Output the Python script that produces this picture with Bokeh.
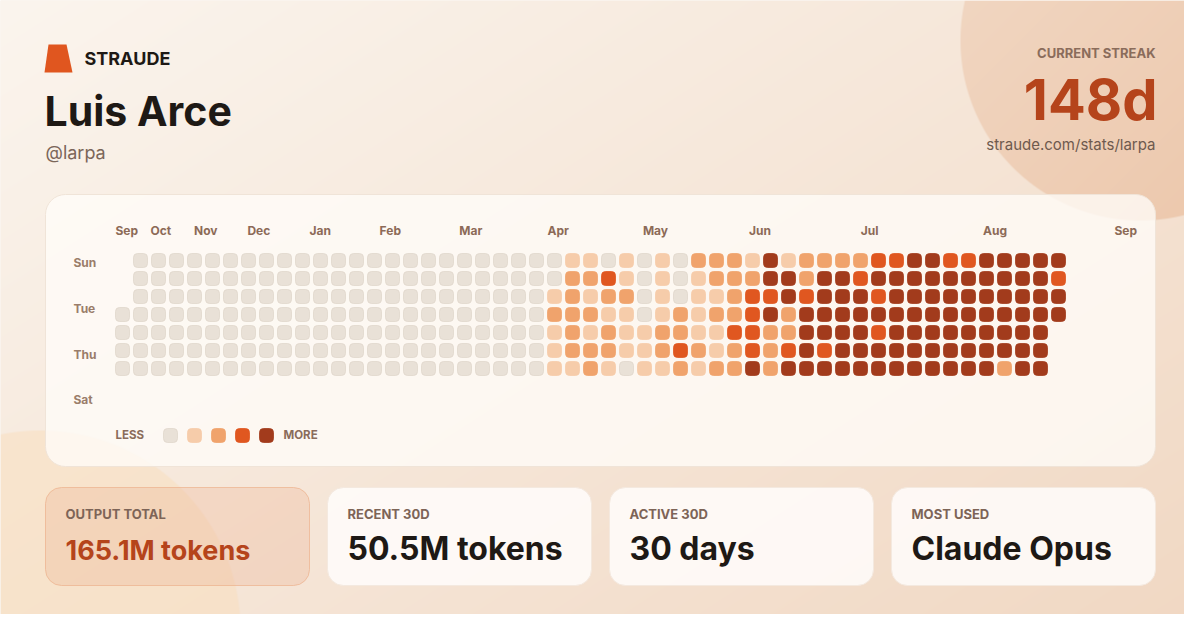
import numpy as np
from bokeh.plotting import figure
from bokeh.models import Range1d, ColumnDataSource
from bokeh.core.properties import value
from bokeh.embed import file_html
from bokeh.resources import INLINE

# ---------------- data ----------------
brand = "STRAUDE"
user_name = "Luis Arce"
user_handle = "@larpa"
streak_label = "CURRENT STREAK"
streak_value = "148d"
profile_url = "straude.com/stats/larpa"

month_labels = ["Sep", "Oct", "Nov", "Dec", "Jan", "Feb", "Mar", "Apr", "May", "Jun", "Jul", "Aug", "Sep"]
month_ticks = [0.0, 1.94, 4.36, 7.33, 10.78, 14.67, 19.1, 24.0, 29.3, 35.2, 41.4, 48.2, 55.5]  # week index
day_labels = ["Sun", "Tue", "Thu", "Sat"]
day_ticks = [0.33, 2.89, 5.43, 7.96]  # day index (baseline)

N = None
# activity level per week (columns), days Sun..Sat; None = outside the year
weekly_levels = [
    [N, N, N, 0, 0, 0, 0],
] + [[0, 0, 0, 0, 0, 0, 0] for _ in range(23)] + [
    [0, 0, 1, 2, 1, 1, 1],
    [1, 2, 2, 2, 2, 2, 1],
    [1, 2, 1, 2, 1, 2, 2],
    [0, 3, 2, 1, 2, 2, 1],
    [1, 1, 2, 1, 1, 1, 0],
    [0, 0, 0, 0, 1, 1, 1],
    [1, 1, 1, 1, 2, 2, 1],
    [0, 0, 0, 2, 2, 3, 2],
    [2, 1, 1, 1, 1, 2, 1],
    [2, 2, 1, 2, 1, 1, 2],
    [2, 2, 2, 2, 3, 2, 2],
    [1, 2, 3, 3, 3, 3, 4],
    [4, 4, 3, 4, 2, 2, 2],
    [1, 4, 4, 2, 2, 3, 4],
    [2, 2, 3, 4, 4, 4, 4],
    [2, 4, 4, 4, 4, 3, 4],
    [2, 4, 4, 4, 4, 4, 4],
    [2, 3, 4, 4, 4, 4, 4],
    [3, 4, 3, 4, 3, 4, 4],
    [3, 4, 4, 4, 4, 4, 4],
    [4, 4, 4, 4, 4, 4, 4],
    [4, 4, 4, 4, 4, 4, 4],
    [3, 4, 4, 4, 4, 4, 4],
    [3, 4, 4, 4, 4, 4, 4],
    [4, 4, 4, 4, 4, 4, 4],
    [4, 4, 4, 4, 4, 4, 2],
    [4, 4, 4, 4, 4, 4, 4],
    [4, 4, 4, 4, 4, 4, 4],
    [4, 3, 4, 4, N, N, N],
]
level_colors = ["#E9E1D7", "#F6CCAA", "#F0A36C", "#E05720", "#A23B1C"]
level_lines = ["#E0D7CC", "#F6CCAA", "#F0A36C", "#E05720", "#A23B1C"]

stat_labels = ["OUTPUT TOTAL", "RECENT 30D", "ACTIVE 30D", "MOST USED"]
stat_values = ["165.1M tokens", "50.5M tokens", "30 days", "Claude Opus"]

# ---------------- figure ----------------
W, H = 1184, 614
p = figure(width=W, height=H, x_range=Range1d(0, W), y_range=Range1d(H, 0),
           output_backend="svg", toolbar_location=None, min_border=0,
           x_axis_location=None, y_axis_location=None)
p.grid.visible = False
p.outline_line_color = None
p.background_fill_color = "#F8EEE4"
p.border_fill_color = "#F8EEE4"

PITCH = 18.0
p.extra_x_ranges = {"week": Range1d((0 - 122) / PITCH, (W - 122) / PITCH)}
p.extra_y_ranges = {"day": Range1d((H - 260) / PITCH, (0 - 260) / PITCH)}

# background gradient + soft circles
yy, xx = np.mgrid[0:H, 0:W].astype(float) + 0.5
t = np.clip(xx / 1200 * 0.55 + yy / 630 * 0.45, 0, 1)
c0 = np.array([251, 245, 238.]); c1 = np.array([241, 216, 195.])
img = c0 + (c1 - c0) * t[..., None]
d = np.hypot(xx - 40, yy - 630)
cov = np.clip(200 - d + 0.5, 0, 1) * 0.5
circ = np.array([249, 222, 188.])
img = img * (1 - cov[..., None]) + circ * cov[..., None]
d = np.hypot(xx - 1140, yy - 40)
cov = np.clip(180 - d + 0.5, 0, 1)
tc = np.clip(((xx - 960) / 360 + (yy + 140) / 360) / 2, 0, 1)
ca = np.array([242, 218, 199.]); cb = np.array([236, 197, 168.])
cc = ca + (cb - ca) * tc[..., None]
img = img * (1 - cov[..., None]) + cc * cov[..., None]
rgba = np.empty((H, W), dtype=np.uint32)
view = rgba.view(dtype=np.uint8).reshape((H, W, 4))
view[..., :3] = np.clip(img, 0, 255).astype(np.uint8)
view[..., 3] = 255
p.image_rgba(image=[rgba], x=0, y=0, dw=W, dh=H)

# logo
p.patch([48, 66, 72, 44], [44, 44, 72, 72], fill_color="#E0561F", line_color=None)

FONT = value("Inter")
K = 0.35  # baseline correction (fraction of font size)


def txt(x, y, s, size, color, bold=False, align="left", xr="default", yr="default"):
    yy_ = y - K * size if yr == "default" else y - K * size / PITCH
    p.text(x=[x], y=[yy_], text=[s], text_font=FONT, text_font_size=f"{size}px",
           text_color=color, text_font_style="bold" if bold else "normal",
           text_align=align, text_baseline="alphabetic", x_range_name=xr, y_range_name=yr)


txt(84, 64, brand, 18, "#1E1915", bold=True)
txt(44, 125, user_name, 41, "#1E1915", bold=True)
txt(45, 158, user_handle, 18, "#7B6659")
txt(1155, 57, streak_label, 13, "#8A6C5B", bold=True, align="right")
txt(1157, 119, streak_value, 56, "#B5441B", bold=True, align="right")
txt(1155, 149, profile_url, 15, "#6E5A4E", align="right")

# heatmap card
p.quad(left=[45], right=[1155], top=[194], bottom=[466], border_radius=20,
       fill_color="#FFFCF8", fill_alpha=0.78, line_color="#F0E4D8", line_width=1)

# cells
wk, dy, fc, lc = [], [], [], []
for w, week in enumerate(weekly_levels):
    for di, lv in enumerate(week):
        if lv is None:
            continue
        wk.append(w); dy.append(di); fc.append(level_colors[lv]); lc.append(level_lines[lv])
half = 7 / PITCH
src = ColumnDataSource(dict(l=[w - half for w in wk], r=[w + half for w in wk],
                            t=[d - half for d in dy], b=[d + half for d in dy], fc=fc, lc=lc))
p.quad(left="l", right="r", top="t", bottom="b", source=src, fill_color="fc", line_color="lc",
       line_width=0.8, border_radius=4, x_range_name="week", y_range_name="day")

# month / day labels
for lab, tk in zip(month_labels, month_ticks):
    txt(tk - half, 234, lab, 12, "#8C6A57", bold=True, xr="week")
for lab, tk in zip(day_labels, day_ticks):
    txt(73, tk, lab, 12, "#9A7D6A", bold=True, yr="day")

# legend
txt(115, 439, "LESS", 11.5, "#8A6C5B", bold=True)
for i, c in enumerate(level_colors):
    cx = 170 + 24 * i
    p.quad(left=[cx - 7], right=[cx + 7], top=[428], bottom=[442], border_radius=4,
           fill_color=c, line_color=level_lines[i], line_width=0.8)
txt(283, 439, "MORE", 11.5, "#8A6C5B", bold=True)

# stat cards
for i, (lab, val) in enumerate(zip(stat_labels, stat_values)):
    x0 = 45 + 282 * i
    if i == 0:
        p.quad(left=[x0], right=[x0 + 264], top=[487], bottom=[585], border_radius=16,
               fill_color="#EDB595", fill_alpha=0.32, line_color="#EDB08C", line_alpha=0.7, line_width=1)
        vc = "#B5441B"; vs = 27
    else:
        p.quad(left=[x0], right=[x0 + 264], top=[487], bottom=[585], border_radius=16,
               fill_color="#FFFDFB", fill_alpha=0.85, line_color="#F4E9DF", line_width=1)
        vc = "#1E1915"; vs = 32
    txt(x0 + 20, 518, lab, 13, "#7D6457", bold=True)
    txt(x0 + 20, 559, val, vs, vc, bold=True)

open("out.html", "w").write(file_html(p, INLINE))
